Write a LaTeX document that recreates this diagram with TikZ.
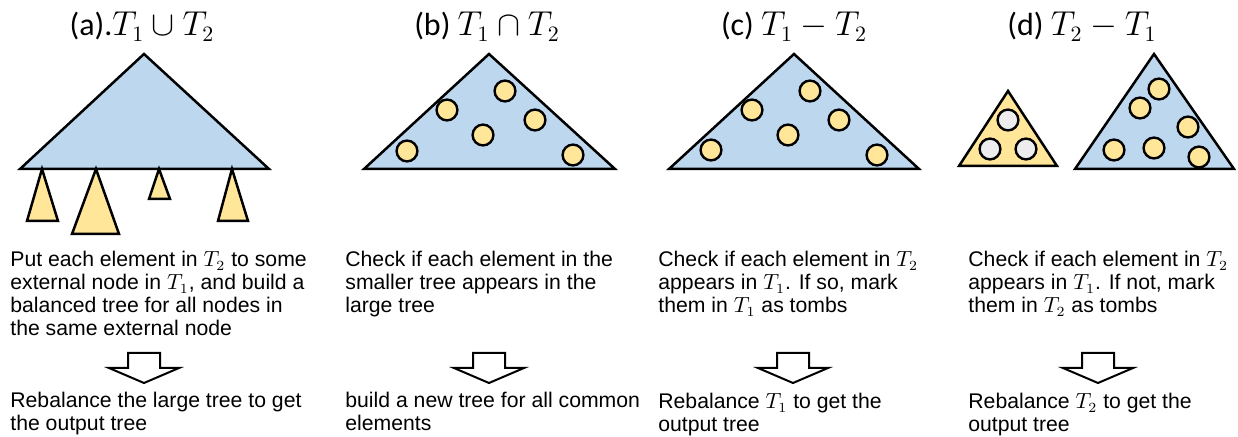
\documentclass[tikz,border=0pt]{standalone}
\usepackage{fontspec}
\setmainfont{Liberation Sans}
\newfontfamily\captionfont{Carlito}
\usepackage{tikz}
\usetikzlibrary{calc, positioning}
\usepackage{xcolor}
\definecolor{treeblue}{HTML}{BDD7EE}
\definecolor{treeyellow}{HTML}{FFE699}
\definecolor{tombgray}{HTML}{EDEDED}

\tikzset{
  bigtree/.style={draw=black, line width=1.25pt, fill=treeblue, line join=miter},
  subtree/.style={draw=black, line width=1.25pt, fill=treeyellow, line join=miter},
  elem/.style={draw=black, line width=1.2pt, fill=treeyellow},
  tomb/.style={elem, fill=tombgray},
  opcap/.style={font=\captionfont\fontsize{16}{18}\selectfont, anchor=base, inner sep=0pt},
  desc/.style={font=\fontsize{10.6}{11.5}\selectfont, align=left, anchor=north west, inner sep=0pt},
  downarrow/.style={draw=black, line width=1pt, fill=white, line join=miter}
}

\begin{document}
\begin{tikzpicture}[x=0.5pt, y=-0.5pt]
        \useasboundingbox (0,0) rectangle (1238,437);

        % --- Captions ---
        \node[opcap] (capA) at (142,36) {(a).$T_1\cup T_2$};
        \node[opcap] (capB) at (487,36) {(b) $T_1\cap T_2$};
        \node[opcap] (capC) at (794,36) {(c) $T_1-T_2$};
        \node[opcap] (capD) at (1082,36) {(d) $T_2-T_1$};

        % --- (a) union: large tree with small trees at external nodes ---
        \draw[bigtree] (20,169) -- (144,54) -- (269,169) -- cycle;
        \draw[subtree] (42,169) -- (58,221) -- (27,221) -- cycle;
        \draw[subtree] (96,169) -- (119,234) -- (72,234) -- cycle;
        \draw[subtree] (159,169) -- (170,199) -- (149,199) -- cycle;
        \draw[subtree] (232,169) -- (248,221) -- (218,221) -- cycle;

        % --- (b) intersection ---
        \draw[bigtree] (364,169) -- (489,54) -- (615,169) -- cycle;
        \foreach \p in {(407,151), (447,110), (483,135), (505,91), (535,120), (573,155)}
          \draw[elem] \p circle (5.2pt);

        % --- (c) difference T1 - T2 ---
        \draw[bigtree] (669,169) -- (794,54) -- (919,169) -- cycle;
        \foreach \p in {(711,150), (752,110), (788,135), (810,91), (839,120), (877,155)}
          \draw[elem] \p circle (5.2pt);

        % --- (d) difference T2 - T1: small tree with tombs, large tree ---
        \draw[subtree] (959,166) -- (1008,91) -- (1057,166) -- cycle;
        \foreach \p in {(1008,120), (990,149), (1026,149)}
          \draw[tomb] \p circle (5.2pt);
        \draw[bigtree] (1075,169) -- (1154,54) -- (1234,169) -- cycle;
        \foreach \p in {(1159,89), (1140,108), (1188,127), (1114,150), (1154,148), (1199,157)}
          \draw[elem] \p circle (5.2pt);

        % --- Step descriptions ---
        \node[desc] (stepA) at (10,251) {Put each element in $T_2$ to some\\external node in $T_1$, and build a\\balanced tree for all nodes in\\the same external node};
        \node[desc] (stepB) at (345,251) {Check if each element in the\\smaller tree appears in the\\large tree};
        \node[desc] (stepC) at (658,251) {Check if each element in $T_2$\\appears in $T_1$. If so, mark\\them in $T_1$ as tombs};
        \node[desc] (stepD) at (968,251) {Check if each element in $T_2$\\appears in $T_1$. If not, mark\\them in $T_2$ as tombs};

        % --- Block arrows ---
        \foreach \name/\x in {arrA/144, arrB/489, arrC/793, arrD/1098} {
          \coordinate (\name) at (\x,353);
          \begin{scope}[shift={(\name)}]
            \draw[downarrow] (-16,0) -- (16,0) -- (16,15) -- (35,15) -- (0,30)
              -- (-35,15) -- (-16,15) -- cycle;
          \end{scope}
        }

        % --- Results ---
        \node[desc] (outA) at (10,392) {Rebalance the large tree to get\\the output tree};
        \node[desc] (outB) at (345,392) {build a new tree for all common\\elements};
        \node[desc] (outC) at (658,393) {Rebalance $T_1$ to get the\\output tree};
        \node[desc] (outD) at (968,393) {Rebalance $T_2$ to get the\\output tree};
      \end{tikzpicture}
\end{document}
